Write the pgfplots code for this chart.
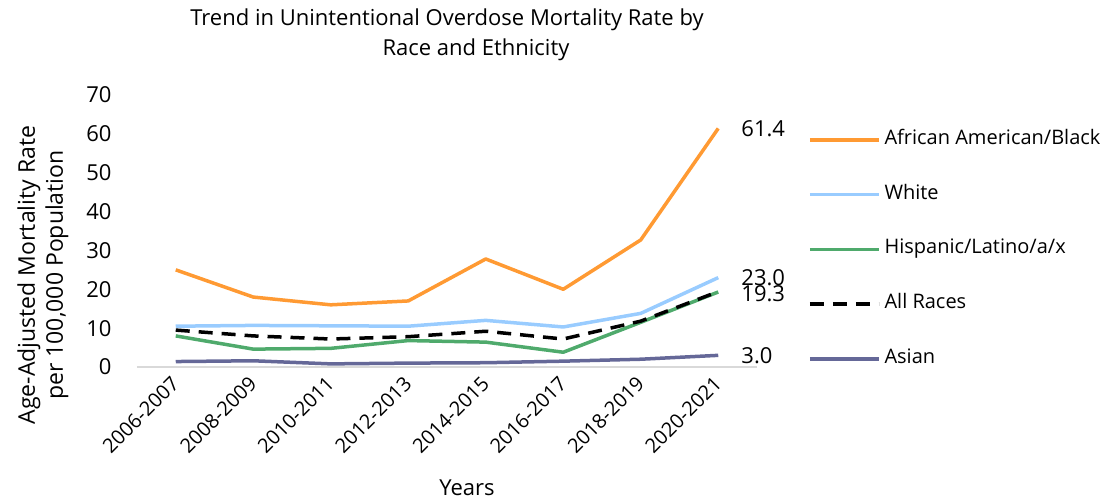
\documentclass[border=0pt]{standalone}
\usepackage{pgfplots}
\pgfplotsset{compat=1.18}
\usepackage{fontspec}
\setmainfont{Open Sans}
\definecolor{cAfr}{HTML}{FF9A33}
\definecolor{cWhi}{HTML}{99CCFF}
\definecolor{cHis}{HTML}{4FAA6C}
\definecolor{cAsi}{HTML}{656898}
\definecolor{cAxis}{HTML}{D9D9D9}
\begin{document}
\begin{tikzpicture}[x=1bp,y=1bp]
\path[use as bounding box] (-137,-134) rectangle (983,367);
\begin{axis}[
  at={(0,0)}, anchor=south west,
  scale only axis, width=620bp, height=272bp,
  xmin=-0.5, xmax=7.5, ymin=0, ymax=70,
  xtick={0,...,7},
  xticklabels={2006-2007,2008-2009,2010-2011,2012-2013,2014-2015,2016-2017,2018-2019,2020-2021},
  ytick={0,10,...,70},
  axis x line=bottom, axis y line=left,
  x axis line style={draw=cAxis, line width=1.5bp, -},
  y axis line style={draw=none},
  tick style={draw=none},
  major tick length=0pt,
  /pgf/number format/assume math mode=true,
  yticklabel style={font=\fontsize{22bp}{24bp}\selectfont, anchor=east, xshift=-22bp},
  xticklabel style={font=\fontsize{20bp}{22bp}\selectfont, anchor=east, yshift=-11bp, xshift=2bp, rotate=45},
  legend style={at={(1.082,0.432)}, anchor=west, draw=none, fill=none, inner sep=0pt,
    font=\fontsize{20bp}{24bp}\selectfont, row sep=37.75bp,
    nodes={inner sep=0pt, text height=13bp, text depth=4bp}},
  legend cell align=left,
  legend image code/.code={\draw[#1] (0bp,0bp) -- (69bp,0bp);},
  every axis plot/.append style={line width=3.5bp, line join=round},
  clip=false,
]
\addplot[cAfr] coordinates {(0,25.0) (1,18.0) (2,16.0) (3,17.0) (4,27.8) (5,20.0) (6,32.7) (7,61.4)};
\addlegendentry{\hspace{4bp}African American/Black}
\addplot[cWhi] coordinates {(0,10.5) (1,10.7) (2,10.6) (3,10.5) (4,12.0) (5,10.3) (6,13.8) (7,23.0)};
\addlegendentry{\hspace{4bp}White}
\addplot[cHis] coordinates {(0,8.0) (1,4.6) (2,4.8) (3,6.8) (4,6.4) (5,3.8) (6,11.5) (7,19.3)};
\addlegendentry{\hspace{4bp}Hispanic/Latino/a/x}
\addplot[black, dash pattern=on 14bp off 9bp] coordinates {(0,9.5) (1,8.0) (2,7.2) (3,7.8) (4,9.2) (5,7.2) (6,11.8) (7,19.4)};
\addlegendentry{\hspace{4bp}All Races}
\addplot[cAsi] coordinates {(0,1.4) (1,1.6) (2,0.8) (3,1.0) (4,1.1) (5,1.5) (6,2.0) (7,3.0)};
\addlegendentry{\hspace{4bp}Asian}
\node[anchor=west, inner sep=0pt, xshift=23bp, font=\fontsize{22bp}{24bp}\selectfont] at (axis cs:7,61.4) {61.4};
\node[anchor=west, inner sep=0pt, xshift=23bp, font=\fontsize{22bp}{24bp}\selectfont] at (axis cs:7,23.0) {23.0};
\node[anchor=west, inner sep=0pt, xshift=23bp, yshift=-2bp, font=\fontsize{22bp}{24bp}\selectfont] at (axis cs:7,19.3) {19.3};
\node[anchor=west, inner sep=0pt, xshift=23bp, font=\fontsize{22bp}{24bp}\selectfont] at (axis cs:7,3.0) {3.0};
\end{axis}
\node[font=\fontsize{22bp}{26bp}\selectfont] at (310,347) {Trend in Unintentional Overdose Mortality Rate by};
\node[font=\fontsize{22bp}{26bp}\selectfont] at (339,317) {Race and Ethnicity};
\node[rotate=90, align=center, font=\fontsize{23bp}{28bp}\selectfont] at (-94,92) {Age-Adjusted Mortality Rate\\per 100,000 Population};
\node[font=\fontsize{22bp}{26bp}\selectfont] at (330,-121) {Years};
\end{tikzpicture}
\end{document}
